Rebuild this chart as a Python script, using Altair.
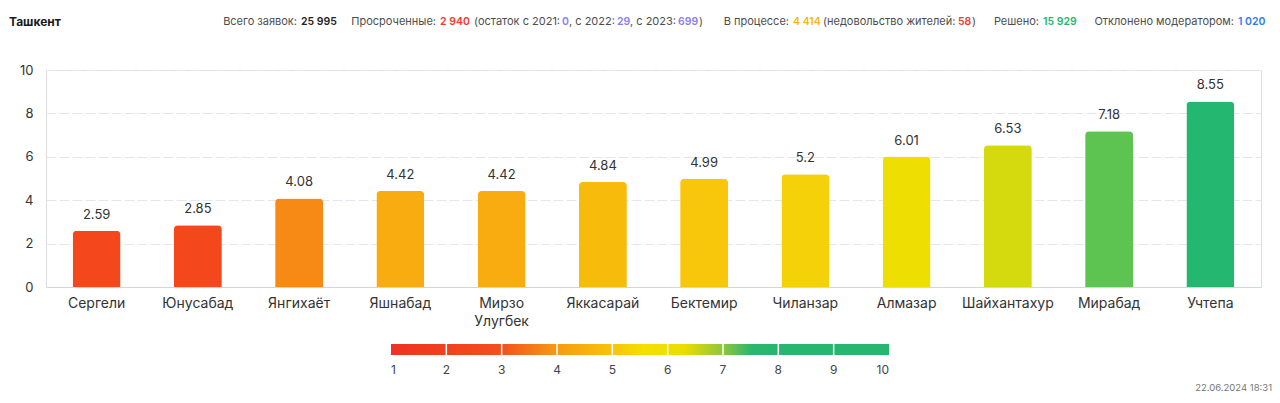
import altair as alt
import pandas as pd

# ---- data ----
districts = ["Сергели", "Юнусабад", "Янгихаёт", "Яшнабад", "Мирзо Улугбек", "Яккасарай",
             "Бектемир", "Чиланзар", "Алмазар", "Шайхантахур", "Мирабад", "Учтепа"]
scores = [2.59, 2.85, 4.08, 4.42, 4.42, 4.84, 4.99, 5.2, 6.01, 6.53, 7.18, 8.55]
bar_colors = ["#f4471b", "#f4471b", "#f68a15", "#f9ac10", "#f9ac10", "#f7bb0c",
              "#f8c70b", "#f5d109", "#eede02", "#d4da0e", "#5dc351", "#24b770"]

legend_ticks = [1, 2, 3, 4, 5, 6, 7, 8, 9, 10]
legend_stops_v = [1, 2, 3, 4, 5, 5.6, 6.3, 7, 7.5, 8, 10]
legend_stops_c = ["#ee3224", "#f0401f", "#f3501e", "#f79a12", "#f8c40b", "#f4e000",
                  "#ebdd00", "#8cc63f", "#2bb76c", "#26b670", "#26b670"]

title_text = "Ташкент"
header_texts = ["Всего заявок:", "25 995", "Просроченные:", "2 940", "(остаток с 2021:", "0",
                ", с 2022:", "29", ", с 2023:", "699", ")", "В процессе:", "4 414",
                "(недовольство жителей:", "58", ")", "Решено:", "15 929",
                "Отклонено модератором:", "1 020"]
header_kind = ["lr", "v", "lr", "v", "l", "v", "l", "v", "l", "v", "l", "lr", "v",
               "l", "v", "l", "lr", "v", "lr", "v"]
header_colors = ["#4d4d4d", "#222222", "#4d4d4d", "#f03a2e", "#4d4d4d", "#8a7cf7",
                 "#4d4d4d", "#8a7cf7", "#4d4d4d", "#8a7cf7", "#4d4d4d", "#4d4d4d", "#f9b515",
                 "#4d4d4d", "#f03a2e", "#4d4d4d", "#4d4d4d", "#26b86b", "#4d4d4d", "#2f7cf6"]
date_text = "22.06.2024 18:31"

# ---- layout (pixels relative to plot origin) ----
X0, Y0 = 46, 70
header_anchor = [297, 301, 436, 440, 474, 562, 569, 617, 630, 678, 699, 789, 793,
                 823, 958, 972, 1039, 1043, 1234, 1238]
HY = 22 - Y0

FONT = "Inter"
TXT = "#333333"

df = pd.DataFrame({"district": districts, "score": scores})
band = alt.Scale(paddingInner=0.526, paddingOuter=0.263)

bars = alt.Chart(df).mark_bar(cornerRadiusTopLeft=4, cornerRadiusTopRight=4).encode(
    x=alt.X("district:N", sort=districts, title=None, scale=band,
            axis=alt.Axis(labelAngle=0, labelExpr="split(datum.label, ' ')", labelFontSize=14,
                          labelColor=TXT, labelFont=FONT, labelPadding=9, labelLineHeight=18,
                          ticks=False, domainColor="#ccd6eb", grid=False)),
    y=alt.Y("score:Q", title=None, scale=alt.Scale(domain=[0, 10]),
            axis=alt.Axis(values=[0, 2, 4, 6, 8, 10], labelFontSize=13, labelColor=TXT, labelFont=FONT,
                          labelPadding=13, ticks=False, domain=False, gridColor="#e3e6ee",
                          gridDash=[10, 3])),
    color=alt.Color("district:N", scale=alt.Scale(domain=districts, range=bar_colors), legend=None),
)

values = alt.Chart(df).mark_text(baseline="bottom", dy=-9, fontSize=13, font=FONT, color=TXT).encode(
    x=alt.X("district:N", sort=districts, axis=None, scale=band),
    y=alt.Y("score:Q", axis=None, scale=alt.Scale(domain=[0, 10])),
    text=alt.Text("score:Q", format="~g"),
)

# ---- gradient colour bar ----
leg_x = alt.Scale(domain=[1, 10], range=[391 - X0, 889 - X0])
grad = alt.LinearGradient(
    gradient="linear", x1=0, x2=1, y1=0, y2=0,
    stops=[alt.GradientStop(color=c, offset=(v - 1) / 9) for v, c in zip(legend_stops_v, legend_stops_c)],
)
leg_df = pd.DataFrame({"lo": [min(legend_ticks)], "hi": [max(legend_ticks)]})
tick_df = pd.DataFrame({"tick": legend_ticks})

leg_rect = alt.Chart(leg_df).mark_rect(fill=grad).encode(
    x=alt.X("lo:Q", scale=leg_x, axis=None), x2="hi:Q",
    y=alt.value(344 - Y0), y2=alt.value(355 - Y0),
)
leg_sep = alt.Chart(tick_df).transform_filter("datum.tick > 1 && datum.tick < 10").mark_rule(
    color="white", strokeWidth=1.5).encode(
    x=alt.X("tick:Q", scale=leg_x, axis=None),
    y=alt.value(344 - Y0), y2=alt.value(355 - Y0),
)


def leg_labels(flt, align):
    return alt.Chart(tick_df).transform_filter(flt).mark_text(
        align=align, baseline="middle", fontSize=12, font=FONT, color="#444444").encode(
        x=alt.X("tick:Q", scale=leg_x, axis=None),
        y=alt.value(370 - Y0),
        text="tick:Q",
    )


leg_l1 = leg_labels("datum.tick == 1", "left")
leg_lm = leg_labels("datum.tick > 1 && datum.tick < 10", "center")
leg_l10 = leg_labels("datum.tick == 10", "right")

# ---- header ----
hdr = pd.DataFrame({"t": header_texts, "px": [s - X0 for s in header_anchor],
                    "c": header_colors, "k": header_kind})


def hdr_layer(kind, align, size, weight):
    return alt.Chart(hdr).transform_filter(f"datum.k == '{kind}'").mark_text(
        align=align, baseline="middle", fontSize=size, font=FONT, fontWeight=weight).encode(
        x=alt.X("px:Q", scale=None, axis=None), y=alt.value(HY), text="t:N",
        color=alt.Color("c:N", scale=None))


h_lr = hdr_layer("lr", "right", 11, 400)
h_l = hdr_layer("l", "left", 11, 400)
h_v = hdr_layer("v", "left", 10.5, 600)

title = alt.Chart(pd.DataFrame({"t": [title_text]})).mark_text(
    align="left", baseline="middle", fontSize=12, font=FONT, fontWeight="bold", color="#1a1a1a").encode(
    x=alt.value(9 - X0), y=alt.value(HY), text="t:N")

date = alt.Chart(pd.DataFrame({"t": [date_text]})).mark_text(
    align="right", baseline="middle", fontSize=9.5, font=FONT, color="#777777").encode(
    x=alt.value(1272 - X0), y=alt.value(388 - Y0), text="t:N")

chart = alt.layer(
    bars, values, leg_rect, leg_sep, leg_l1, leg_lm, leg_l10,
    h_lr, h_l, h_v, title, date,
).resolve_scale(x="independent", y="independent", color="independent").properties(
    width=1215, height=217,
    padding={"left": 38, "top": 62, "right": 11, "bottom": 107},
    autosize=alt.AutoSizeParams(type="none"),
).configure_view(stroke=None).configure(background="white")

chart.save("out.html", embed_options={"renderer": "svg", "actions": False})
